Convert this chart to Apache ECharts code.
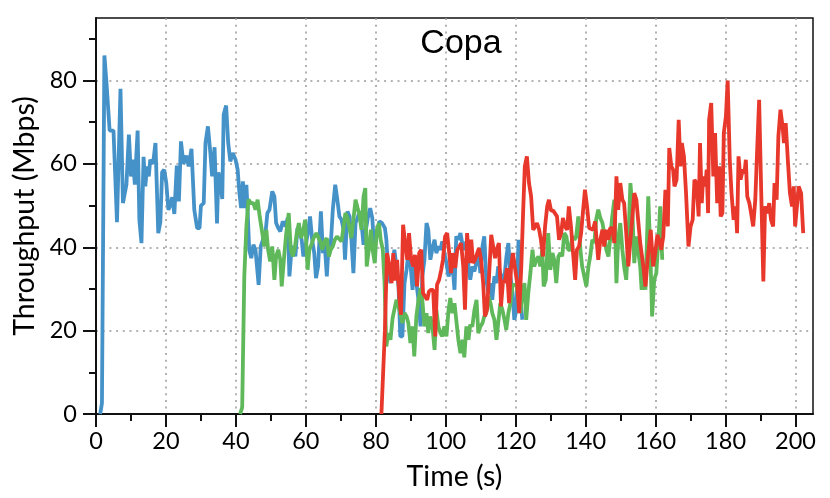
<!DOCTYPE html>
<html>
<head>
<meta charset="utf-8">
<script src="https://cdn.jsdelivr.net/npm/echarts@6/dist/echarts.min.js"></script>
<style>
  html, body { margin: 0; padding: 0; background: #fff; }
  #chart { width: 830px; height: 498px; }
</style>
</head>
<body>
<div id="chart"></div>
<script>
  // tick positions
  const xTicks = [0, 20, 40, 60, 80, 100, 120, 140, 160, 180, 200]
  const xMinorTicks = [10, 30, 50, 70, 90, 110, 130, 150, 170, 190]
  const yTicks = [0, 20, 40, 60, 80]
  const yMinorTicks = [10, 30, 50, 70, 90]

  // [time (s), throughput (Mbps)]
  const flow1 = [[1.2,0],[1.7,2.6],[2.4,86],[3,79.4],[3.9,68],[5,68],[6,46],[7,78],[7.7,50.6],[8.7,55],[9.4,67],[10,57],[10.6,61],[11.1,55],[11.9,68],[12.4,46.6],[13,41],[13.6,61.7],[14.1,54.6],[14.6,59.4],[15.1,57],[15.5,61],[16.3,60],[17,65],[17.8,43.4],[18.4,46],[18.9,58],[19.5,58.6],[20.1,55.4],[20.7,49],[21.2,50],[21.8,52],[22.4,48],[23.1,59.6],[23.7,51],[24.3,65.4],[25,60],[25.8,62],[26.5,59.4],[27.3,63.6],[28.1,49],[28.9,44.6],[29.6,44.6],[30,50],[30.8,50.6],[31.3,65],[32,69],[32.7,62.6],[33.2,57],[33.9,64],[34.6,45.7],[35,58],[35.5,55.8],[36.1,51.6],[36.5,71.8],[37.2,74],[37.8,65],[38.4,60.6],[39.1,62.6],[39.9,61],[40.5,58.6],[41,53],[41.5,49.4],[42,55.8],[42.5,49.4],[43,55],[43.3,49.8],[43.8,39.4],[44.4,37.4],[45,40.6],[45.6,39.4],[46.5,31],[47.1,40.2],[47.9,42.2],[48.5,43.8],[49,48.2],[49.6,49],[50.4,53.4],[51,52.2],[51.5,45.8],[52.1,44.6],[52.7,43.8],[53.4,46.2],[54.2,45],[54.8,47],[55.3,33],[55.9,39.4],[56.5,40.2],[57,37.8],[57.6,44.6],[58.2,43.8],[58.8,41.8],[59.3,37.8],[59.9,40.2],[60.5,43],[61.2,47.4],[61.8,41.8],[62.4,38.6],[62.9,32.6],[63.5,35.4],[64.3,48.6],[64.9,38.6],[65.4,40.6],[66,33],[66.6,41.8],[67.1,40.2],[67.7,49],[68.4,55],[69,51.4],[69.6,47.4],[70.2,46.6],[70.8,44.2],[71.2,37],[71.9,48.6],[72.5,47.4],[73,42.2],[73.6,33.8],[74.2,45.8],[74.8,47],[75.3,48.6],[75.9,45.8],[76.5,40.6],[77,41],[77.7,47],[78.4,49.4],[79,47],[79.5,40.2],[80.2,42.6],[81,46.2],[81.8,45.8],[82.6,44.6],[83,42],[83.6,33.8],[84.2,31.4],[84.8,35.4],[85.3,39.4],[85.9,35.4],[86.5,30.6],[87,18.6],[87.6,18.6],[88.2,31.4],[88.8,34.6],[89.3,38.6],[89.9,36.2],[90.5,29.8],[91,37],[91.6,31.4],[92.2,27.4],[92.8,21],[93.3,33],[93.9,37],[94.5,45.8],[95,44.2],[95.6,37],[96.2,39.8],[96.8,41.8],[97.3,38.6],[97.9,40.2],[98.5,39.4],[99,41.4],[99.6,38.6],[100.2,36.2],[100.8,33],[101.3,34.2],[101.9,36.2],[102.5,29.8],[103,42.6],[103.6,41.8],[104.2,43.4],[104.8,40.6],[105.3,39.4],[105.9,41.4],[106.5,35.4],[107,32.2],[107.6,35.4],[108.2,34.2],[108.8,36.6],[109.3,38.6],[109.9,33.8],[110.5,40.2],[111,42.6],[111.6,32.2],[112.2,29],[112.8,31.4],[113.3,27.4],[113.9,33],[114.5,31.4],[115,35.4],[115.6,33.8],[116.2,32.2],[116.8,33],[117.3,37.4],[117.9,41],[118.5,33],[119.1,29],[119.6,22.6],[120.2,25],[120.8,41.8],[121.3,28.2],[121.9,22.6]]

  const flow2 = [[41.2,0],[41.8,1.6],[42.4,33],[43,45],[43.6,51.4],[44.3,50.6],[45,50.6],[45.6,49],[46.2,51.4],[46.8,47.4],[47.4,44.2],[48.1,40.2],[48.7,44.2],[49.2,39.4],[49.8,36.6],[50.4,40.2],[51,32.2],[51.5,37.8],[52.1,39.4],[52.7,37],[53.1,30.6],[53.8,37.8],[54.4,43.4],[55.1,48.2],[55.7,39.4],[56.3,37.8],[56.9,40.2],[57.4,43.4],[58,45.8],[58.6,42.2],[59.1,43.4],[59.8,46.6],[60.5,34.6],[61,39.4],[61.6,40.6],[62.2,42.2],[63,43.4],[63.5,43.8],[64.1,41.4],[64.7,39.4],[65.3,41.4],[66,42.2],[66.6,37.8],[67.1,39.4],[67.7,40.2],[68.3,41.8],[68.9,42.6],[69.4,42.2],[70.2,41.4],[70.8,45],[71.3,48.2],[71.9,47],[72.5,44.6],[73,42.2],[73.6,46.6],[74.2,51.4],[74.8,49.4],[75.3,47.8],[75.9,44.2],[76.5,52.2],[77,54.2],[77.4,35.4],[78,39.4],[78.6,44.2],[79.1,39.4],[79.7,36.2],[80.3,44.2],[80.9,45.8],[81.4,41.8],[82,39.4],[82.5,31.4],[83,16.2],[83.6,19.4],[84.2,17.8],[84.8,23],[85.3,23.4],[85.9,27.4],[86.5,25.8],[87,24.2],[87.6,21.8],[88.2,24.2],[88.8,23.4],[89.3,21.8],[89.9,17],[90.5,21],[91,13.8],[91.6,23.4],[92.2,27.4],[92.8,30.2],[93.3,27.4],[93.9,21],[94.5,24.2],[95,19.4],[95.6,23.4],[96.2,21],[96.8,15.4],[97.3,25],[97.9,21],[98.5,19.4],[99,18.6],[99.6,21],[100.2,18.6],[100.8,25],[101.3,27.8],[101.9,24.2],[102.5,26.6],[103,22.6],[103.6,17.8],[104.2,14.6],[104.8,17.8],[105.3,13.6],[105.9,21],[106.5,17.8],[107,21.4],[107.6,21],[108.2,25],[108.8,27.4],[109.3,19.4],[109.9,21],[110.5,21.8],[111,23.4],[111.6,24.2],[112.2,28.2],[112.8,26.6],[113.3,24.2],[113.9,22.6],[114.5,17.8],[115,21.8],[115.6,26.6],[116.2,25],[116.8,22.6],[117.3,20.2],[117.9,24.2],[118.5,26.6],[119.1,31],[119.6,30.6],[120.2,31],[120.8,27.4],[121.3,24.2],[121.9,29],[122.5,31.4],[123,22.6],[123.6,29],[124.2,33.8],[124.8,39.4],[125.3,35.4],[125.9,37],[126.5,37.8],[127,35.4],[127.6,39.4],[128,30.6],[128.6,32.2],[129.3,43.4],[129.9,34.6],[130.5,38.6],[131,37],[131.6,31.4],[132.2,37.8],[132.8,38.6],[133.3,37.8],[133.9,43.4],[134.5,42.6],[135,39.4],[135.6,39.4],[136.2,42.6],[136.8,41.8],[137.3,42.6],[137.9,47.4],[138.5,39.4],[139,35.4],[139.6,33],[140.2,30.6],[140.8,35.4],[141.3,37.8],[141.9,41.8],[142.5,41],[143,46.6],[143.6,49],[144.2,47],[144.8,45.8],[145.3,43.4],[145.9,39.4],[146.5,37.8],[147,41.8],[147.6,47.4],[148.2,51.4],[148.8,31.4],[149.3,41.8],[149.9,45.8],[150.5,39.4],[151,35.4],[151.6,32.2],[152.2,41.8],[152.8,55.4],[153.3,49.8],[153.9,36.2],[154.5,42.6],[155,39.4],[155.6,35.4],[156,29.8],[156.6,34.6],[157.1,29.8],[157.9,52.2],[158.5,38.6],[159,23.4],[159.6,32.2],[160.2,33.8],[160.8,41.8],[161.3,49.8],[161.9,37]]

  const flow3 = [[81.6,0],[82.6,20],[83.2,38.6],[83.8,36],[84.5,31.4],[85,38.6],[85.5,32],[86.1,37],[86.7,28.2],[87.2,23.8],[87.8,45.4],[88.4,41],[89,37],[89.5,43.4],[90.1,37],[90.7,35.4],[91.2,38.2],[91.8,30.6],[92.4,38.6],[93,39.4],[93.5,29],[94.1,28.2],[94.7,27.4],[95.2,29.4],[95.8,29.8],[96.4,29.8],[97,18.6],[97.5,31],[98.1,32.2],[98.7,34.6],[99.2,37],[99.8,42.6],[100.4,43.4],[101,38.6],[101.5,33.8],[102.1,38.6],[102.7,35],[103.3,39.4],[103.9,40.2],[104.4,41],[105,35.4],[105.5,25],[106.1,43.4],[106.7,36.2],[107.3,41.8],[107.8,36.2],[108.4,37],[109,38.6],[109.5,39.8],[110.1,37],[110.7,31.4],[111.2,23.4],[111.8,25],[112.4,33.4],[113,43],[113.5,42.6],[114.1,37.4],[114.7,39.8],[115.2,41],[115.8,25.8],[116.4,32.2],[116.9,31.4],[117.5,35],[118.1,26.6],[118.7,35.4],[119.2,38.6],[119.8,35],[120.4,31.4],[121,24.2],[121.6,35.4],[122.1,48],[122.6,59.4],[123.2,61.8],[123.8,55.4],[124.4,52.2],[125,44.2],[125.5,44.2],[126.1,45.8],[126.7,44.2],[127.2,41.8],[127.8,37.8],[128.4,45],[129,49.8],[129.5,51.4],[130.1,48.8],[130.7,48.8],[131.2,48.6],[131.8,47.4],[132.4,41.8],[133,43.4],[133.5,47],[134.1,45],[134.7,44.2],[135.2,49.8],[135.8,45],[136.4,38.6],[137,32.2],[137.5,39.4],[138.1,40.2],[138.7,43.4],[139.2,48.2],[139.8,53.8],[140.4,49.8],[141,44.6],[141.5,44.6],[142.1,44.2],[142.7,46.2],[143.2,45.8],[143.6,37],[144.2,41.8],[144.8,44.2],[145.3,40.2],[145.9,44.2],[146.5,41.8],[147,44.6],[147.6,44.6],[148.2,41],[148.8,57],[149.3,49],[149.9,55.4],[150.5,51.4],[151,50.6],[151.6,43.4],[152.2,35.4],[152.8,41.8],[153.3,46.6],[153.9,53],[154.5,51.4],[155,46.6],[155.6,41],[156.5,35.4],[157.1,30.6],[157.8,37.8],[158.6,44.2],[159.3,35.4],[159.9,38.6],[160.5,43],[161,41.8],[161.6,39.4],[162.2,42.6],[162.8,53.8],[163.1,53.8],[163.5,45],[163.9,63.8],[164.5,59.4],[165,58.6],[165.4,54.6],[166,56.2],[166.6,70.6],[167.1,59.4],[167.5,65],[168.1,61.8],[168.7,53],[169.4,40.2],[170,45],[170.6,46.6],[171.1,56.2],[171.7,55.4],[172.3,47.4],[172.7,65],[173.2,50.6],[173.6,57],[174.2,54.6],[174.6,58.6],[175,48.2],[175.3,70.6],[175.9,74.6],[176.5,57],[177,67.4],[177.6,50.6],[178.2,59.4],[178.6,47.4],[179.1,48.2],[179.5,67.4],[180.1,71.4],[180.6,80],[181.2,61],[181.7,53],[182.3,46.6],[182.9,49.8],[183.3,43.4],[183.7,61.8],[184.3,56.2],[184.9,58.6],[185.4,57.8],[185.8,61],[186.2,52.2],[186.8,50.6],[187.3,48.2],[187.9,45],[188.5,51.4],[189,62.6],[189.6,75.4],[190.2,53],[190.8,31.8],[191.3,49.8],[191.9,48.2],[192.5,50.6],[193,46.6],[193.6,45],[194,55.4],[194.6,51.4],[195.1,66.6],[195.7,73],[196.3,69],[196.7,65],[197.2,69.8],[197.8,61],[198.4,53],[199,49.8],[199.5,54.6],[199.9,45],[200.5,50.6],[200.9,54.6],[201.6,53],[202.2,43.4]]

  const labelFont = 'Lato'
  const chart = echarts.init(document.getElementById('chart'))

  const flowLine = (data, color) => ({
    type: 'line',
    data: data,
    showSymbol: false,
    silent: true,
    lineStyle: { width: 3.8, color: color },
    itemStyle: { color: color }
  })

  const option = {
    animation: false,
    title: {
      text: 'Copa',
      left: 456,
      top: 22,
      textAlign: 'center',
      textStyle: { fontFamily: 'Liberation Sans', fontSize: 34, fontWeight: 'normal', color: '#000' }
    },
    grid: { left: 96, right: 17, top: 18, bottom: 84, show: true, borderColor: '#111', borderWidth: 1.5 },
    xAxis: [
      {
        type: 'value', position: 'bottom', min: 0, max: 205, interval: 20,
        name: 'Time (s)', nameLocation: 'middle', nameGap: 48,
        nameTextStyle: { fontFamily: labelFont, fontSize: 28.5, color: '#000' },
        axisLine: { onZero: false, lineStyle: { color: '#111', width: 2 } },
        axisTick: { customValues: xTicks, length: 13, lineStyle: { color: '#111', width: 2 } },
        axisLabel: { customValues: xTicks, margin: 15, fontFamily: labelFont, fontSize: 23.5, color: '#000' },
        splitLine: { show: true, lineStyle: { color: '#999', width: 1.5, type: [2, 4.7] } }
      },
      {
        type: 'value', position: 'bottom', min: 0, max: 205, interval: 10,
        axisLine: { show: false, onZero: false },
        axisTick: { customValues: xMinorTicks, length: 7, lineStyle: { color: '#111', width: 2 } },
        axisLabel: { show: false },
        splitLine: { show: false }
      }
    ],
    yAxis: [
      {
        type: 'value', position: 'left', min: 0, max: 95, interval: 20,
        name: 'Throughput (Mbps)', nameLocation: 'middle', nameGap: 53,
        nameTextStyle: { fontFamily: labelFont, fontSize: 28.5, color: '#000' },
        axisLine: { show: true, onZero: false, lineStyle: { color: '#111', width: 2 } },
        axisTick: { show: true, customValues: yTicks, length: 13, lineStyle: { color: '#111', width: 2 } },
        axisLabel: { customValues: yTicks, margin: 19, fontFamily: labelFont, fontSize: 23.5, color: '#000' },
        splitLine: { show: true, lineStyle: { color: '#999', width: 1.5, type: [2, 4.7] } }
      },
      {
        type: 'value', position: 'left', min: 0, max: 95, interval: 10,
        axisLine: { show: false, onZero: false },
        axisTick: { show: true, customValues: yMinorTicks, length: 7, lineStyle: { color: '#111', width: 2 } },
        axisLabel: { show: false },
        splitLine: { show: false }
      }
    ],
    series: [
      flowLine(flow1, '#4592c9'),
      flowLine(flow2, '#5fb85a'),
      flowLine(flow3, '#e8382b')
    ]
  }
  chart.setOption(option)
</script>
</body>
</html>
